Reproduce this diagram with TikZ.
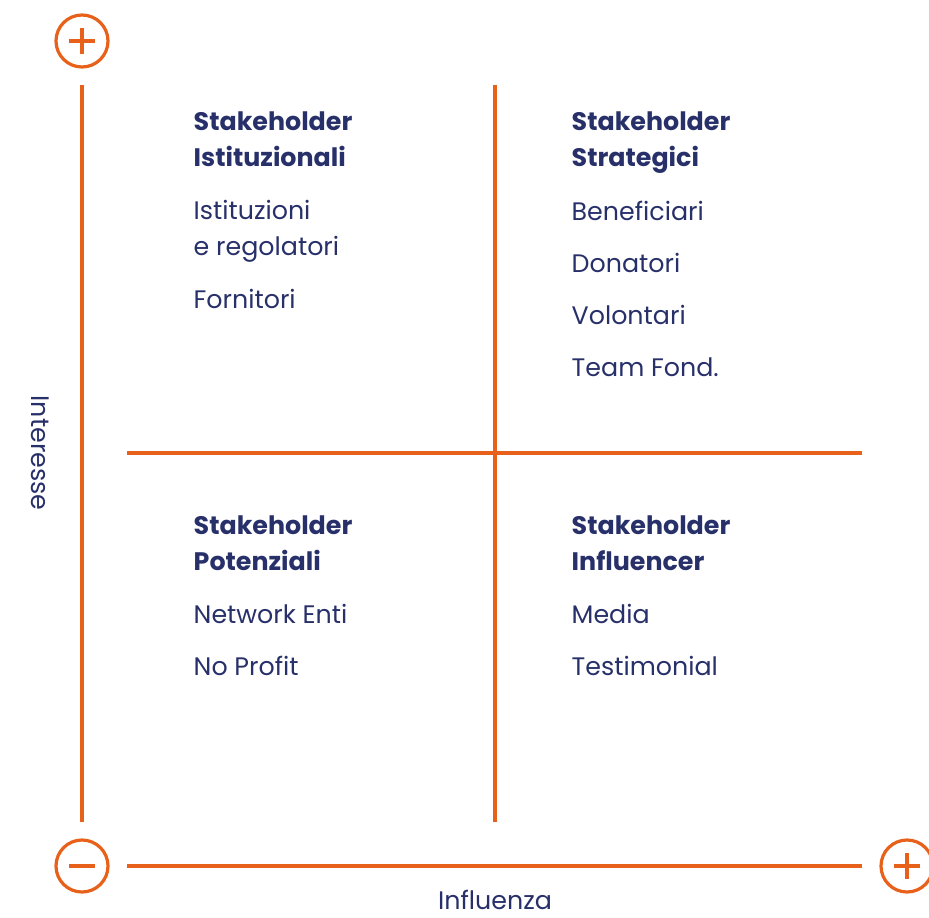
\documentclass[tikz,border=0pt]{standalone}
\usepackage{fontspec}
\setmainfont{Poppins}
\definecolor{axisorange}{HTML}{E8611A}
\definecolor{textnavy}{HTML}{28306A}
\tikzset{
  axisline/.style={axisorange, line width=3pt},
  signcircle/.style={circle, draw=axisorange, line width=2.4pt, minimum size=39pt, inner sep=0pt},
  signbar/.style={axisorange, line width=2.6pt},
  headtext/.style={anchor=base west, textnavy, align=left, font=\fontsize{19}{27}\selectfont\bfseries},
  itemtext/.style={anchor=base west, textnavy, align=left, font=\fontsize{19}{27}\selectfont},
  axistext/.style={textnavy, font=\fontsize{19}{27}\selectfont},
}
\begin{document}
\begin{tikzpicture}[x=0.75pt, y=-0.75pt]
    \useasboundingbox (0,0) rectangle (929,918);
    %Signs
    \node[signcircle] (plustop) at (82,41) {};
    \node[signcircle] (minus) at (82,866) {};
    \node[signcircle] (plusright) at (907,866) {};
    \draw[signbar] ([xshift=-9.5pt]plustop.center) -- ([xshift=9.5pt]plustop.center);
    \draw[signbar] ([yshift=-9.5pt]plustop.center) -- ([yshift=9.5pt]plustop.center);
    \draw[signbar] ([xshift=-9.5pt]minus.center) -- ([xshift=9.5pt]minus.center);
    \draw[signbar] ([xshift=-9.5pt]plusright.center) -- ([xshift=9.5pt]plusright.center);
    \draw[signbar] ([yshift=-9.5pt]plusright.center) -- ([yshift=9.5pt]plusright.center);
    %Axes
    \draw[axisline] (82,85) -- (82,822);
    \draw[axisline] (127,866) -- (862,866);
    %Quadrants
    \draw[axisline] (495,85) -- (495,822);
    \draw[axisline] (127,453) -- (862,453);
    %Axis labels
    \node[axistext, rotate=-90] (interesse) at (40,453) {Interesse};
    \node[axistext] (influenza) at (495,900) {Influenza};
    %Top left (base = last line)
    \node[headtext] (istituzionali) at (189,166) {Stakeholder\\Istituzionali};
    \node[itemtext] (istituzioni) at (189,255) {Istituzioni\\e regolatori};
    \node[itemtext] (fornitori) at (189,308) {Fornitori};
    %Top right
    \node[headtext] (strategici) at (567,166) {Stakeholder\\Strategici};
    \node[itemtext] (beneficiari) at (567,220) {Beneficiari};
    \node[itemtext] (donatori) at (567,272) {Donatori};
    \node[itemtext] (volontari) at (567,324) {Volontari};
    \node[itemtext] (team) at (567,376) {Team Fond.};
    %Bottom left
    \node[headtext] (potenziali) at (189,570) {Stakeholder\\Potenziali};
    \node[itemtext] (network) at (189,623) {Network Enti};
    \node[itemtext] (noprofit) at (189,675) {No Profit};
    %Bottom right
    \node[headtext] (influencer) at (567,570) {Stakeholder\\Influencer};
    \node[itemtext] (media) at (567,623) {Media};
    \node[itemtext] (testimonial) at (567,675) {Testimonial};
\end{tikzpicture}
\end{document}
